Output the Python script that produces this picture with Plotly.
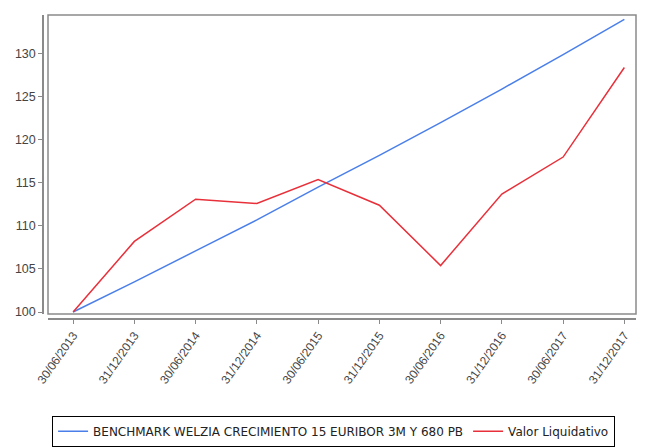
import plotly.graph_objects as go

dates = ["30/06/2013", "31/12/2013", "30/06/2014", "31/12/2014", "30/06/2015",
         "31/12/2015", "30/06/2016", "31/12/2016", "30/06/2017", "31/12/2017"]
benchmark = [100.0, 103.5, 107.1, 110.7, 114.5, 118.2, 122.0, 125.9, 129.9, 134.0]
valor = [100.0, 108.2, 113.1, 112.6, 115.4, 112.4, 105.4, 113.7, 118.0, 128.4]

# page body has an 8px default margin, so figure is shrunk and shifted accordingly
W, H = 638, 440
l, r, t, b = 35, 10, 7, 129
pw, ph = W - l - r, H - t - b
xd0 = 5 / pw
yd0 = 5 / ph

fig = go.Figure()
fig.add_trace(go.Scatter(x=dates, y=benchmark, mode="lines",
                         name="BENCHMARK WELZIA CRECIMIENTO 15 EURIBOR 3M Y 680 PB",
                         line=dict(color="#4A7FEA", width=1.5)))
fig.add_trace(go.Scatter(x=dates, y=valor, mode="lines", name="Valor Liquidativo",
                         line=dict(color="#E8303A", width=1.5)))

fig.add_shape(type="rect", xref="paper", yref="paper", x0=xd0, x1=1, y0=yd0, y1=1,
              line=dict(color="#8a8a8a", width=1.5), fillcolor="rgba(0,0,0,0)", layer="above")

fig.update_layout(
    width=W, height=H,
    margin=dict(l=l, r=r, t=t, b=b, autoexpand=False),
    plot_bgcolor="white", paper_bgcolor="white",
    font=dict(family="Liberation Sans, Arial, sans-serif", color="#444444", size=12),
    showlegend=True,
    legend=dict(orientation="h", x=0.49, xanchor="center", y=-0.318, yanchor="top",
                bordercolor="#000000", borderwidth=1,
                font=dict(family="DejaVu Sans", size=12, color="#222222"),
                itemwidth=30, tracegroupgap=0),
    xaxis=dict(domain=[xd0, 1], anchor="free", position=0, type="category", automargin=False,
               range=[-0.41, 9.19], showgrid=False, zeroline=False,
               showline=True, linecolor="#8a8a8a", linewidth=1.5,
               ticks="outside", ticklen=4, tickcolor="#8a8a8a",
               tickangle=-55, tickfont=dict(size=12, color="#444444")),
    yaxis=dict(domain=[yd0, 1], anchor="free", position=0, automargin=False,
               range=[99.77, 134.5], showgrid=False, zeroline=False,
               showline=True, linecolor="#8a8a8a", linewidth=1.5,
               ticks="outside", ticklen=4, tickcolor="#8a8a8a",
               tickvals=[100, 105, 110, 115, 120, 125, 130],
               tickfont=dict(size=12.5, color="#444444")),
)

fig.write_html("out.html")
